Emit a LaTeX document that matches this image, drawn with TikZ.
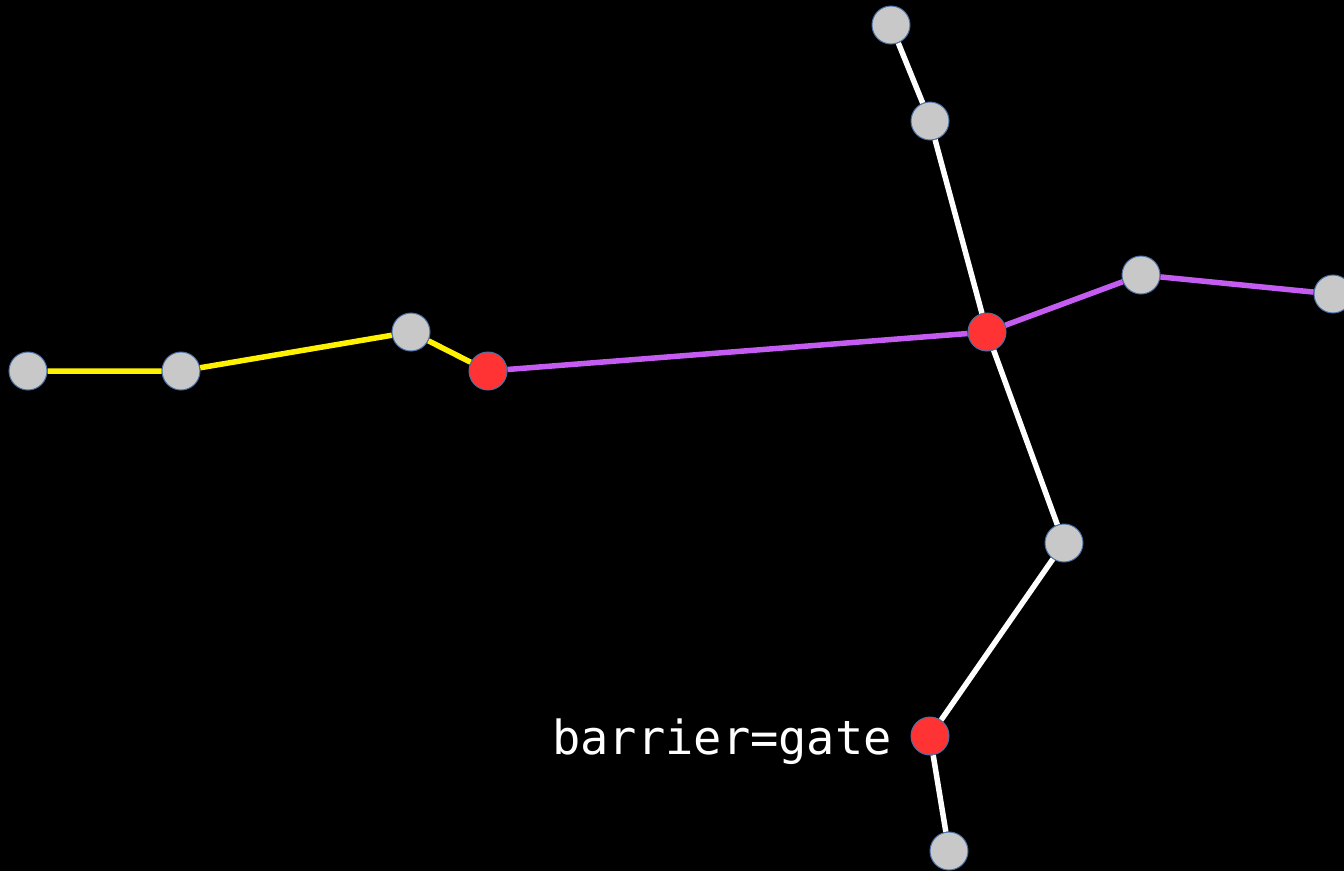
\documentclass[tikz,border=0pt]{standalone}
\usepackage{fontspec}
\newfontfamily\monofont{DejaVu Sans Mono}
\definecolor{nodegray}{HTML}{C8C8C8}
\definecolor{nodered}{HTML}{FF3333}
\definecolor{nodeborder}{HTML}{4A6FA5}
\definecolor{edgepurple}{HTML}{C45CF2}
\begin{document}
\begin{tikzpicture}[x=1pt,y=-1pt,
  gnode/.style={circle,fill=nodegray,draw=nodeborder,line width=1pt,minimum size=38pt,inner sep=0pt},
  rnode/.style={circle,fill=nodered,draw=nodeborder,line width=1pt,minimum size=38pt,inner sep=0pt},
  yedge/.style={draw=yellow,line width=5.5pt},
  pedge/.style={draw=edgepurple,line width=5.5pt},
  wedge/.style={draw=white,line width=5.5pt}]
\fill[black] (0,0) rectangle (1344,871);
\useasboundingbox (0,0) rectangle (1344,871);
\node[gnode] (y1) at (28,371) {};
\node[gnode] (y2) at (181,371) {};
\node[gnode] (y3) at (411,332) {};
\node[rnode] (r1) at (488,371) {};
\node[rnode] (r2) at (987,332) {};
\node[gnode] (p1) at (1141,275) {};
\node[gnode] (p2) at (1333,294) {};
\node[gnode] (w1) at (891,25) {};
\node[gnode] (w2) at (930,121) {};
\node[gnode] (w3) at (1064,543) {};
\node[rnode] (r3) at (930,736) {};
\node[gnode] (w4) at (949,851) {};
\path[yedge] (y1) -- (y2) -- (y3) -- (r1);
\path[pedge] (r1) -- (r2) -- (p1) -- (p2);
\path[wedge] (w1) -- (w2) -- (r2) -- (w3) -- (r3) -- (w4);
\node[anchor=base east,text=white,font=\monofont\fontsize{47}{56}\selectfont,inner sep=0pt] (lbl) at (892,754) {barrier=gate};
\end{tikzpicture}
\end{document}
